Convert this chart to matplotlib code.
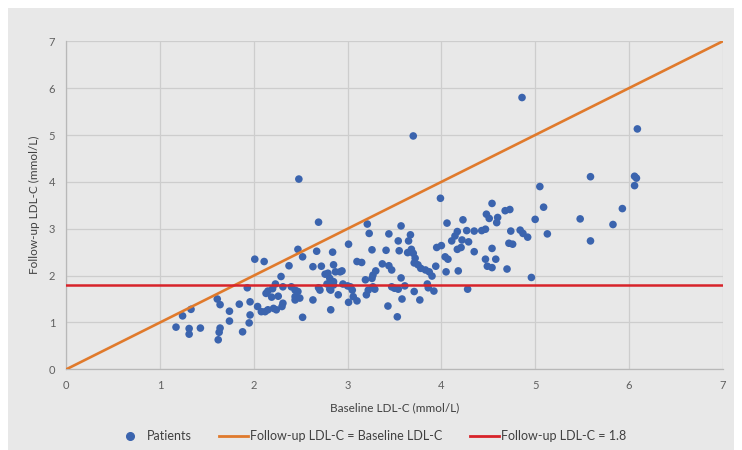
import matplotlib
matplotlib.use("Agg")
import matplotlib.pyplot as plt
from matplotlib.lines import Line2D
from matplotlib.patches import Rectangle

plt.rcParams['font.family'] = ['Lato', 'DejaVu Sans']

# Patient data (baseline LDL-C, follow-up LDL-C), mmol/L
baseline = [
    1.17, 1.24, 1.33, 1.31, 1.31, 1.43, 1.61, 1.64, 1.74, 1.74, 1.64, 1.63, 1.62, 1.845, 1.88, 1.93, 1.96, 1.96, 1.95,
    2.01, 2.11, 2.29, 2.375, 2.47, 2.48, 2.69, 2.52, 2.67, 2.84, 2.63, 2.72, 2.85, 2.76, 2.79, 2.87, 2.81, 2.85,
    2.23, 2.20, 2.15, 2.13, 2.19, 2.26, 2.31, 2.40, 2.44, 2.47, 2.44, 2.49, 2.44, 2.705, 2.69, 2.78, 2.82, 2.63,
    2.04, 2.08, 2.12, 2.15, 2.21, 2.24, 2.30, 2.31, 2.52, 2.82, 2.90, 2.95, 2.92, 2.85, 2.81, 3.00, 3.01,
    3.21, 3.57, 3.23, 3.44, 3.67, 3.65, 3.54, 3.01, 3.26, 3.41, 3.55, 3.68, 3.64, 3.70, 3.72, 3.71, 3.75, 3.78,
    3.83, 3.87, 3.94, 3.95, 3.99, 3.70, 3.10, 3.15, 3.37, 3.44, 3.47, 2.94, 3.30, 3.27, 3.26, 3.19, 3.57, 3.03,
    3.05, 3.06, 3.10, 3.20, 3.22, 3.27, 3.29, 3.47, 3.50, 3.54, 3.61, 3.71, 3.58, 3.43, 3.77, 3.53, 3.85, 3.86,
    3.92, 3.90,
    4.54, 4.06, 4.23, 4.48, 4.51, 4.60, 4.59, 4.68, 4.73, 5.00, 4.17, 4.145, 4.11, 4.27, 4.35, 4.43, 4.47, 4.22,
    4.29, 4.00, 4.17, 4.21, 4.35, 4.54, 4.74, 4.84, 4.87, 4.92, 4.72, 4.76, 4.04, 4.07, 4.05, 4.18, 4.47, 4.58,
    4.49, 4.54, 4.70, 4.96, 4.28, 4.86,
    5.59, 5.05, 5.09, 5.48, 5.13, 5.59, 5.83, 5.93, 6.06, 6.08, 6.06, 6.09,
]
followup = [
    0.90, 1.14, 1.28, 0.87, 0.75, 0.88, 1.50, 1.38, 1.24, 1.03, 0.88, 0.79, 0.63, 1.39, 0.80, 1.74, 1.44, 1.16, 0.99,
    2.35, 2.30, 1.98, 2.21, 2.56, 4.06, 3.14, 2.40, 2.52, 2.50, 2.19, 2.20, 2.23, 2.03, 2.05, 2.08, 1.94, 1.87,
    1.82, 1.72, 1.67, 1.62, 1.54, 1.56, 1.76, 1.76, 1.69, 1.66, 1.55, 1.52, 1.48, 1.69, 1.74, 1.82, 1.69, 1.48,
    1.34, 1.23, 1.23, 1.27, 1.30, 1.27, 1.34, 1.41, 1.11, 1.27, 1.59, 1.82, 2.08, 1.80, 1.71, 1.78, 1.43,
    3.10, 3.06, 2.90, 2.89, 2.87, 2.74, 2.74, 2.67, 2.55, 2.54, 2.53, 2.56, 2.49, 2.475, 2.37, 2.27, 2.23, 2.155,
    2.12, 2.08, 2.20, 2.60, 3.65, 4.98, 2.30, 2.28, 2.25, 2.21, 2.12, 2.10, 2.10, 2.01, 1.94, 1.91, 1.95, 1.76,
    1.69, 1.55, 1.46, 1.59, 1.69, 1.76, 1.71, 1.76, 1.73, 1.71, 1.78, 1.66, 1.50, 1.35, 1.48, 1.12, 1.82, 1.74,
    1.67, 1.99,
    3.54, 3.12, 3.19, 3.31, 3.22, 3.24, 3.13, 3.385, 3.41, 3.20, 2.94, 2.845, 2.74, 2.96, 2.95, 2.96, 2.99, 2.76,
    2.72, 2.64, 2.56, 2.60, 2.51, 2.58, 2.95, 2.97, 2.90, 2.82, 2.69, 2.67, 2.40, 2.35, 2.08, 2.10, 2.35, 2.35,
    2.20, 2.17, 2.14, 1.96, 1.71, 5.80,
    4.11, 3.90, 3.46, 3.21, 2.89, 2.74, 3.09, 3.43, 4.12, 4.08, 3.92, 5.13,
]

ref_x = [0, 7]          # identity line: follow-up = baseline
target = 1.8            # follow-up LDL-C target
x_ticks = [0, 1, 2, 3, 4, 5, 6, 7]
y_ticks = [0, 1, 2, 3, 4, 5, 6, 7]

bg = '#e8e8e8'
fig = plt.figure(figsize=(7.42, 4.50), dpi=100, facecolor='white')
fig.patches.append(Rectangle((8 / 742, 0), 1 - 16 / 742, 1 - 8 / 450,
                             transform=fig.transFigure, facecolor=bg,
                             edgecolor='none', zorder=-10))
ax = fig.add_axes([66.3 / 742, 1 - 369.3 / 450, (722.7 - 66.3) / 742, (369.3 - 41.3) / 450])
ax.set_facecolor(bg)

ax.scatter(baseline, followup, s=30, color='#3b64ae', edgecolors='none', zorder=3, label='Patients')
ax.plot(ref_x, ref_x, color='#e07a2c', lw=1.9, zorder=4, label='Follow-up LDL-C = Baseline LDL-C')
ax.plot(ref_x, [target, target], color='#d8232a', lw=1.8, zorder=4, label='Follow-up LDL-C = 1.8')

ax.set_xlim(0, 7)
ax.set_ylim(0, 7)
ax.set_xticks(x_ticks)
ax.set_yticks(y_ticks)
ax.grid(True, color='#cdcdcd', lw=0.9, zorder=0)
ax.set_axisbelow(True)
for s in ['top', 'right']:
    ax.spines[s].set_visible(False)
for s in ['left', 'bottom']:
    ax.spines[s].set_color('#b8b8b8')
    ax.spines[s].set_linewidth(0.9)
ax.tick_params(length=0, labelsize=8, labelcolor='#606060', pad=8)

ax.set_xlabel('Baseline LDL-C (mmol/L)', fontsize=8.5, color='#404040', labelpad=8)
ax.set_ylabel('Follow-up LDL-C (mmol/L)', fontsize=8.5, color='#404040', labelpad=6)

handles = [
    Line2D([], [], marker='o', ls='none', color='#3b64ae', markersize=5.5),
    Line2D([], [], color='#e07a2c', lw=2),
    Line2D([], [], color='#d8232a', lw=2),
]
labels = ['Patients', 'Follow-up LDL-C = Baseline LDL-C', 'Follow-up LDL-C = 1.8']
fig.legend(handles, labels, loc='center', bbox_to_anchor=(0.5, 1 - 436 / 450), ncol=3,
           frameon=False, fontsize=9, handlelength=2.3, handletextpad=0.2, columnspacing=2.2,
           labelcolor='#404040')

fig.savefig('out.png', dpi=100, facecolor=fig.get_facecolor())
